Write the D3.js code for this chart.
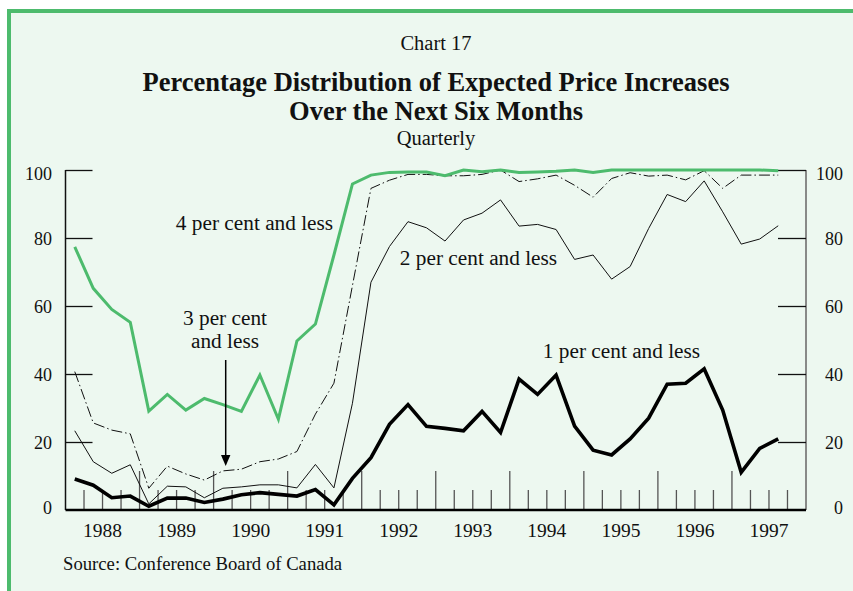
<!DOCTYPE html>
<html>
<head>
<meta charset="utf-8">
<script src="https://cdn.jsdelivr.net/npm/d3@7"></script>
<style>
  html, body { margin: 0; padding: 0; background: #fff; }
  svg { display: block; }
  text { font-family: "Liberation Serif", "Times New Roman", serif; fill: #111; }
</style>
</head>
<body>
<svg class="Chart"></svg>
<script>
/* Chart values */
const quarters = [
  "1988Q1", "1988Q2", "1988Q3", "1988Q4", "1989Q1", "1989Q2", "1989Q3", "1989Q4",
  "1990Q1", "1990Q2", "1990Q3", "1990Q4", "1991Q1", "1991Q2", "1991Q3", "1991Q4",
  "1992Q1", "1992Q2", "1992Q3", "1992Q4", "1993Q1", "1993Q2", "1993Q3", "1993Q4",
  "1994Q1", "1994Q2", "1994Q3", "1994Q4", "1995Q1", "1995Q2", "1995Q3", "1995Q4",
  "1996Q1", "1996Q2", "1996Q3", "1996Q4", "1997Q1", "1997Q2", "1997Q3"
];
const years = [1988, 1989, 1990, 1991, 1992, 1993, 1994, 1995, 1996, 1997];
const yTicks = [0, 20, 40, 60, 80, 100];

const onePerCent = [
  9.1, 7.3, 3.6, 4.1, 1.1, 3.5, 3.5, 2.2, 3.2, 4.5, 5.1, 4.6, 4.1, 6.0, 1.5, 9.3,
  15.4, 25.2, 31.0, 24.6, 24.0, 23.3, 29.0, 22.8, 38.5, 34.0, 39.7, 24.7, 17.6, 16.2,
  20.9, 27.0, 37.0, 37.3, 41.5, 29.4, 11.1, 18.1, 20.9
];
const twoPerCent = [
  23.3, 14.2, 10.8, 13.3, 1.8, 7.0, 6.8, 3.6, 6.4, 6.8, 7.4, 7.4, 6.5, 13.4, 6.5, 31.4,
  67.0, 77.5, 84.8, 83.0, 79.1, 85.3, 87.3, 91.2, 83.5, 84.0, 82.5, 73.7, 75.0, 67.9,
  71.6, 82.8, 92.8, 90.7, 96.8, 87.7, 78.2, 79.7, 83.6
];
const threePerCent = [
  40.7, 25.6, 23.5, 22.4, 6.4, 12.9, 10.6, 8.8, 11.5, 12.0, 14.2, 15.0, 17.2, 28.2, 37.3, 66.0,
  94.6, 97.0, 98.7, 98.7, 98.3, 98.3, 98.7, 100, 96.6, 97.4, 98.5, 95.5, 92.0, 97.5,
  99.2, 98.2, 98.5, 97.1, 99.8, 94.6, 98.5, 98.5, 98.5
];
const fourPerCent = [
  77.4, 65.2, 59.0, 55.2, 29.1, 34.0, 29.4, 32.8, 31.0, 29.0, 39.7, 26.7, 49.7, 54.7, 75.0, 95.9,
  98.5, 99.3, 99.4, 99.4, 98.3, 100, 99.5, 100, 99.3, 99.4, 99.6, 100, 99.3, 100,
  100, 100, 100, 100, 100, 100, 100, 100, 99.8
];

const width = 853;
const height = 591;
const green = "#4dbb6d";

const svg = d3.select(".Chart")
  .attr("width", width)
  .attr("height", height);

// panel background + green frame (left and top only)
svg.append("rect")
  .attr("x", 7).attr("y", 9)
  .attr("width", width).attr("height", height)
  .attr("fill", "#edf8f0");
svg.append("rect").attr("x", 7).attr("y", 9).attr("width", width).attr("height", 4).attr("fill", green);
svg.append("rect").attr("x", 7).attr("y", 9).attr("width", 4).attr("height", height).attr("fill", green);

// titles
svg.append("text").attr("x", 436).attr("y", 50).attr("text-anchor", "middle")
  .style("font-size", "20.5px").text("Chart 17");
svg.append("text").attr("x", 436).attr("y", 91).attr("text-anchor", "middle")
  .style("font-size", "26.5px").style("font-weight", "bold")
  .text("Percentage Distribution of Expected Price Increases");
svg.append("text").attr("x", 436).attr("y", 120).attr("text-anchor", "middle")
  .style("font-size", "26.5px").style("font-weight", "bold")
  .text("Over the Next Six Months");
svg.append("text").attr("x", 436).attr("y", 145).attr("text-anchor", "middle")
  .style("font-size", "20.5px").text("Quarterly");

// scales
const x = d3.scaleLinear().domain([1988, 1998]).range([65.5, 806]);
const y = d3.scaleLinear().domain([0, 100]).range([510, 170]);

function quarterPos(q) {
  let yr = +q.slice(0, 4);
  let qn = +q.slice(5);
  return yr + (qn - 0.5) / 4;
}
function quarterEdge(q) {
  return +q.slice(0, 4) + (+q.slice(5) - 1) / 4;
}

// left / right value axes, ticks pointing inwards
let leftAxis = d3.axisRight(y).tickValues(yTicks.slice(1)).tickSize(27).tickFormat("");
let rightAxis = d3.axisLeft(y).tickValues(yTicks.slice(1)).tickSize(28).tickFormat("");

let gl = svg.append("g").attr("transform", `translate(${x(1988)},0)`).call(leftAxis);
gl.select(".domain").attr("stroke", "#111").attr("stroke-width", 1.5).attr("d", `M0,${y(100)}V${y(0)}`);
gl.selectAll(".tick line").attr("stroke", "#111").attr("stroke-width", 1.3);

let gr = svg.append("g").attr("transform", `translate(${x(1998)},0)`).call(rightAxis);
gr.select(".domain").attr("stroke", "#666").attr("stroke-width", 1.5).attr("d", `M0,${y(100)}V${y(0)}`);
gr.selectAll(".tick line").attr("stroke", "#111").attr("stroke-width", 1.3);

// value labels both sides
function labelShift(d) {
  if (d === 100) return 10;
  if (d === 0) return 3.5;
  return 6.5;
}
svg.append("g").selectAll("text")
  .data(yTicks).enter().append("text")
  .attr("x", 52).attr("y", d => y(d) + labelShift(d))
  .attr("text-anchor", "end")
  .style("font-size", "18px")
  .text(d => d);
svg.append("g").selectAll("text")
  .data(yTicks).enter().append("text")
  .attr("x", 843).attr("y", d => y(d) + labelShift(d))
  .attr("text-anchor", "end")
  .style("font-size", "18px")
  .text(d => d);

// quarter ticks standing up from the base line
let edges = quarters.map(quarterEdge).concat([1997.75]).filter(v => v > 1988);
svg.append("g").selectAll("line")
  .data(edges).enter().append("line")
  .attr("x1", d => x(d)).attr("x2", d => x(d))
  .attr("y1", y(0))
  .attr("y2", d => (d % 1 === 0) ? y(0) - 39 : y(0) - 20)
  .attr("stroke", "#555")
  .attr("stroke-width", 1.3);

// year labels
svg.append("g").selectAll("text")
  .data(years).enter().append("text")
  .attr("x", d => x(d + 0.5)).attr("y", 537)
  .attr("text-anchor", "middle")
  .style("font-size", "19.5px")
  .text(d => d);

// series
let line = d3.line()
  .x((d, i) => x(quarterPos(quarters[i])))
  .y(d => y(d));

svg.append("path").datum(threePerCent)
  .attr("d", line).attr("fill", "none")
  .attr("stroke", "#111").attr("stroke-width", 1)
  .attr("stroke-dasharray", "11,3,1.5,3");

svg.append("path").datum(twoPerCent)
  .attr("d", line).attr("fill", "none")
  .attr("stroke", "#111").attr("stroke-width", 1);

svg.append("path").datum(onePerCent)
  .attr("d", line).attr("fill", "none")
  .attr("stroke", "#000").attr("stroke-width", 3.6);

svg.append("path").datum(fourPerCent)
  .attr("d", line).attr("fill", "none")
  .attr("stroke", green).attr("stroke-width", 3);

// base line
svg.append("line")
  .attr("x1", x(1988)).attr("x2", x(1998))
  .attr("y1", y(0)).attr("y2", y(0))
  .attr("stroke", "#000").attr("stroke-width", 2.5);

// series labels
function label(txt, lx, ly) {
  svg.append("text").attr("x", lx).attr("y", ly)
    .attr("text-anchor", "middle")
    .style("font-size", "21.3px")
    .text(txt);
}
label("4 per cent and less", 254.5, 230);
label("2 per cent and less", 478.5, 265);
label("1 per cent and less", 621.5, 358);
label("3 per cent", 225, 325);
label("and less", 225, 348);

// arrow to the 3 per cent line
svg.append("line")
  .attr("x1", 225.7).attr("x2", 225.7)
  .attr("y1", 360).attr("y2", 456)
  .attr("stroke", "#000").attr("stroke-width", 1.5);
svg.append("path")
  .attr("d", "M221,455 L230.4,455 L225.7,466 Z")
  .attr("fill", "#000");

svg.append("text").attr("x", 63).attr("y", 570)
  .style("font-size", "18.7px")
  .text("Source: Conference Board of Canada");
</script>
</body>
</html>
